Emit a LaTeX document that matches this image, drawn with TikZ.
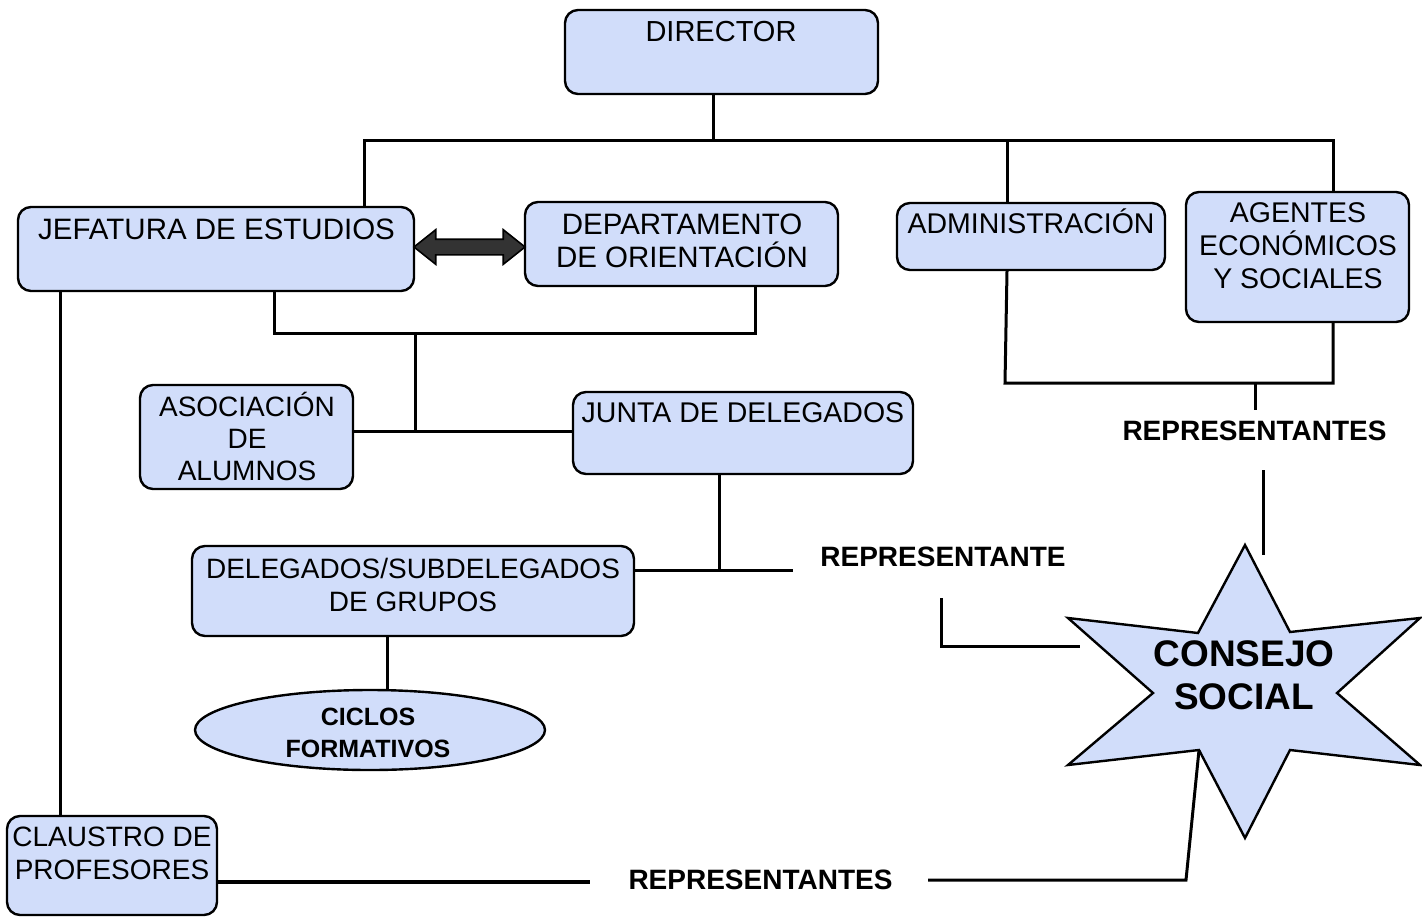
\documentclass[tikz,border=0pt]{standalone}
\usepackage{fontspec}
\setmainfont{Liberation Sans}
\usetikzlibrary{shapes.geometric,shapes.arrows}

\definecolor{boxblue}{RGB}{209,221,250}
\definecolor{arrowgray}{RGB}{51,51,51}

\tikzset{
  box/.style={draw, line width=2.4pt, rounded corners=13pt, fill=boxblue, inner sep=0pt},
  oval/.style={draw, line width=2.4pt, ellipse, fill=boxblue, inner sep=0pt},
  txt/.style={font=\fontsize{28.5}{33}\selectfont, align=center, inner sep=0pt},
  rep/.style={font=\fontsize{28}{32}\selectfont\bfseries, inner sep=0pt},
  conn/.style={line width=3pt},
  dblarrow/.style={draw, line width=1.6pt, fill=arrowgray, double arrow, inner xsep=0pt, inner ysep=7pt,
    minimum height=111pt, minimum width=33pt, double arrow head extend=9.5pt, double arrow tip angle=77},
}

\begin{document}
\begin{tikzpicture}[x=1pt,y=-1pt]
    \useasboundingbox (0,0) rectangle (1422,916);

    \node[box, minimum width=313pt, minimum height=84pt]  (dir) at (721.5,52)  {};
    \node[box, minimum width=396pt, minimum height=84pt]  (jef) at (216,249)   {};
    \node[box, minimum width=313pt, minimum height=84pt]  (dep) at (681.5,244) {};
    \node[box, minimum width=268pt, minimum height=67pt]  (adm) at (1031,236.5) {};
    \node[box, minimum width=223pt, minimum height=130pt] (age) at (1297.5,257) {};
    \node[box, minimum width=213pt, minimum height=104pt] (aso) at (246.5,437) {};
    \node[box, minimum width=340pt, minimum height=82pt]  (jun) at (743,433)   {};
    \node[box, minimum width=442pt, minimum height=90pt]  (del) at (413,591)   {};
    \node[oval, minimum width=350pt, minimum height=80pt] (cic) at (370,730)   {};
    \node[box, minimum width=210pt, minimum height=99pt]  (cla) at (112,865.5) {};
    \node[dblarrow] (arr) at (469.5,247) {};

    \node[txt, font=\fontsize{29}{33}\selectfont]   (dirt) at (721,32)    {DIRECTOR};
    \node[txt, font=\fontsize{29.5}{33}\selectfont] (jeft) at (216.5,229) {JEFATURA DE ESTUDIOS};
    \node[txt, font=\fontsize{29.5}{33}\selectfont] (dept) at (682,240.5) {DEPARTAMENTO\\DE ORIENTACIÓN};
    \node[txt] (admt) at (1031,221.5) {ADMINISTRACIÓN};
    \node[txt] (aget) at (1298,246)   {AGENTES\\ECONÓMICOS\\Y SOCIALES};
    \node[txt, font=\fontsize{28}{32}\selectfont] (asot) at (247,436.5) {ASOCIACIÓN\\DE\\ALUMNOS};
    \node[txt] (junt) at (743,413)    {JUNTA DE DELEGADOS};
    \node[txt, font=\fontsize{28}{33}\selectfont] (delt) at (413,584.5) {DELEGADOS/SUBDELEGADOS\\DE GRUPOS};
    \node[txt, font=\fontsize{28}{33}\selectfont] (clat) at (112,853.5) {CLAUSTRO DE\\PROFESORES};
    \node[font=\fontsize{25}{32}\selectfont\bfseries, align=center, inner sep=0pt] (cict) at (368,733) {CICLOS\\FORMATIVOS};

    \coordinate (top) at (713,140);
    \coordinate (tl) at (364,140);
    \coordinate (tm) at (1007,140);
    \coordinate (tr) at (1333,140);
    \draw[conn] (dir.south -| top) -- (top);
    \draw[conn] (jef.north -| tl) -- (tl) -- (tr) -- (age.north -| tr);
    \draw[conn] (tm) -- (adm.north -| tm);

    \coordinate (ml) at (274,333);
    \coordinate (mr) at (755,333);
    \coordinate (mm) at (415,333);
    \coordinate (mj) at (415,431);
    \draw[conn] (jef.south -| ml) -- (ml) -- (mr) -- (dep.south -| mr);
    \draw[conn] (mm) -- (mj);
    \draw[conn] (aso.east |- mj) -- (jun.west |- mj);

    \coordinate (jd) at (719,570);
    \coordinate (rep1) at (793,570);
    \coordinate (dc) at (387,640);
    \draw[conn] (jun.south -| jd) -- (jd);
    \draw[conn] (del.east |- jd) -- (rep1);
    \draw[conn] (del.south -| dc) -- (cic.north -| dc);
    \node[rep] (rept) at (943,557) {REPRESENTANTE};
    \coordinate (rep2) at (941,598);
    \coordinate (rep3) at (1080,646);
    \draw[conn] (rep2) |- (rep3);

    \coordinate (al) at (1005,383);
    \coordinate (ar) at (1333,383);
    \coordinate (am) at (1255,383);
    \coordinate (amb) at (1255,410);
    \draw[conn] (adm.south -| tm) -- (al) -- (ar) -- (age.south -| ar);
    \draw[conn] (am) -- (amb);
    \node[rep] (rsup) at (1254.5,431) {REPRESENTANTES};
    \coordinate (cs1) at (1263,470);
    \coordinate (cs2) at (1263,555);
    \draw[conn] (cs1) -- (cs2);

    \draw[line width=2.4pt, fill=boxblue, line join=miter]
        (1245,545) -- (1290,632) -- (1420,618) -- (1337,693) -- (1420,765) -- (1290,750)
        -- (1245,838) -- (1199,750) coordinate (sv) -- (1068,765) -- (1153,693) -- (1068,618)
        -- (1198,633) -- cycle;
    \node[font=\fontsize{37}{43}\selectfont\bfseries, align=center, inner sep=0pt] (cons) at (1244,675.5) {CONSEJO\\SOCIAL};

    \coordinate (cl) at (60,300);
    \draw[conn] (jef.south -| cl) -- (cla.north -| cl);
    \coordinate (bl) at (590,882);
    \coordinate (br) at (928,880);
    \coordinate (bc) at (1186,880);
    \draw[conn, line width=4.5pt] (cla.east |- bl) -- (bl);
    \node[rep] (rinf) at (760.5,880) {REPRESENTANTES};
    \draw[conn] (br) -- (bc) -- (sv);
\end{tikzpicture}
\end{document}
